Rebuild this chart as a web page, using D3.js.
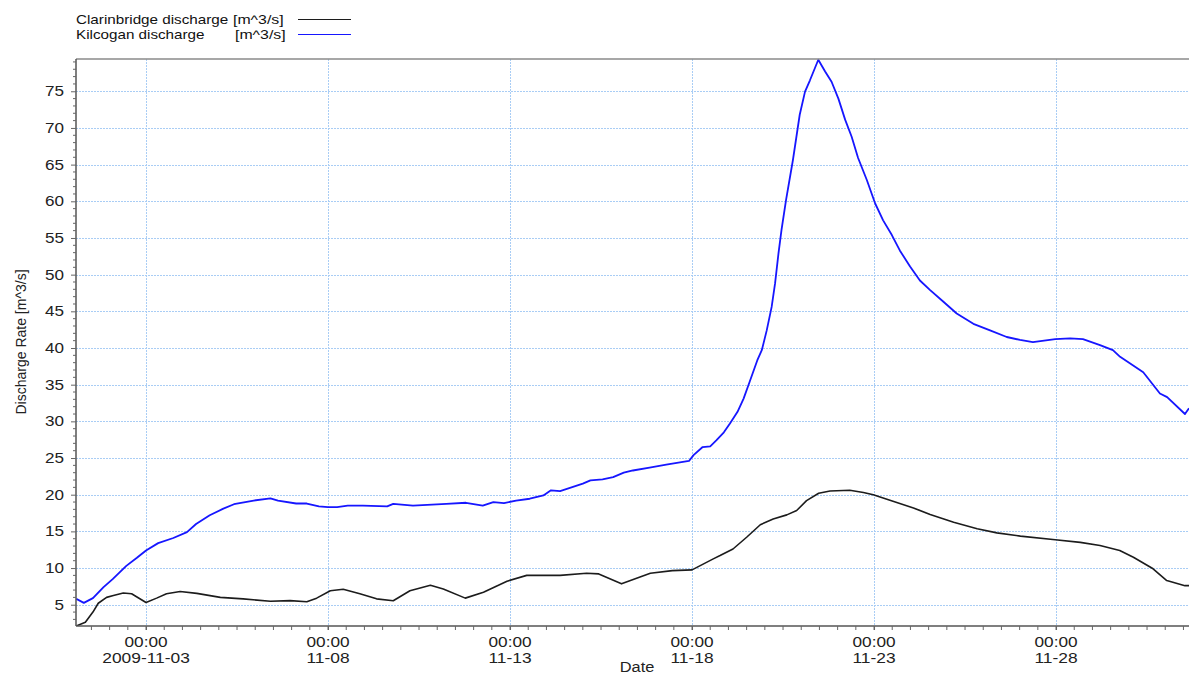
<!DOCTYPE html>
<html>
<head>
<meta charset="utf-8">
<script src="https://cdn.jsdelivr.net/npm/d3@7"></script>
<style>
  html, body { margin: 0; padding: 0; background: #fff; }
  svg { display: block; font-family: "Liberation Sans", Arial, sans-serif; }
</style>
</head>
<body>
<svg id="chart" width="1189" height="675"></svg>
<script>
// ---------------- data ----------------
const seriesNames = ["Clarinbridge discharge", "Kilcogan discharge"];
const seriesUnit = "[m^3/s]";

const kilcoganTimes = [
  "2009-11-01 02:00","2009-11-01 07:00","2009-11-01 13:00","2009-11-01 20:00",
  "2009-11-02 02:00","2009-11-02 11:00","2009-11-02 18:00","2009-11-03 00:00",
  "2009-11-03 08:00","2009-11-03 18:00","2009-11-04 03:00","2009-11-04 09:00",
  "2009-11-04 18:00","2009-11-05 03:00","2009-11-05 10:00","2009-11-05 23:00",
  "2009-11-06 10:00","2009-11-06 15:00","2009-11-07 03:00","2009-11-07 10:00",
  "2009-11-07 18:00","2009-11-08 00:00","2009-11-08 06:00","2009-11-08 13:00",
  "2009-11-08 23:00","2009-11-09 15:00","2009-11-09 19:00","2009-11-10 08:00",
  "2009-11-11 06:00","2009-11-11 19:00","2009-11-12 06:00","2009-11-12 13:00",
  "2009-11-12 20:00","2009-11-13 04:00","2009-11-13 13:00","2009-11-13 22:00",
  "2009-11-14 03:00","2009-11-14 09:00","2009-11-15 00:00","2009-11-15 05:00",
  "2009-11-15 13:00","2009-11-15 20:00","2009-11-16 03:00","2009-11-16 09:00",
  "2009-11-16 20:00","2009-11-17 07:00","2009-11-17 16:00","2009-11-17 22:00",
  "2009-11-18 01:00","2009-11-18 07:00","2009-11-18 12:00","2009-11-18 16:00",
  "2009-11-18 21:00","2009-11-19 01:00","2009-11-19 06:00","2009-11-19 10:00",
  "2009-11-19 14:00","2009-11-19 19:00","2009-11-19 22:00","2009-11-20 01:15",
  "2009-11-20 04:30","2009-11-20 06:45","2009-11-20 09:00","2009-11-20 11:00",
  "2009-11-20 14:00","2009-11-20 18:30","2009-11-20 23:00","2009-11-21 02:30",
  "2009-11-21 05:45","2009-11-21 11:15","2009-11-21 15:45","2009-11-21 20:00",
  "2009-11-22 00:30","2009-11-22 05:00","2009-11-22 09:15","2009-11-22 13:30",
  "2009-11-22 19:15","2009-11-23 00:45","2009-11-23 06:00","2009-11-23 11:45",
  "2009-11-23 17:00","2009-11-23 23:45","2009-11-24 06:15","2009-11-24 13:00",
  "2009-11-24 21:45","2009-11-25 06:30","2009-11-25 17:30","2009-11-26 04:30",
  "2009-11-26 15:30","2009-11-27 00:15","2009-11-27 08:45","2009-11-27 23:30",
  "2009-11-28 09:15","2009-11-28 17:45","2009-11-29 05:00","2009-11-29 13:30",
  "2009-11-29 18:15","2009-11-30 09:30","2009-11-30 20:30","2009-12-01 01:15",
  "2009-12-01 13:00","2009-12-01 15:40"
];
const kilcoganValues = [
  5.8, 5.25, 5.9, 7.4,
  8.5, 10.3, 11.4, 12.4,
  13.4, 14.1, 14.9, 16.0,
  17.2, 18.1, 18.7, 19.2,
  19.5, 19.2, 18.8, 18.8,
  18.4, 18.3, 18.3, 18.5,
  18.5, 18.4, 18.75, 18.5,
  18.75, 18.9, 18.5, 19.0,
  18.85, 19.2, 19.45, 19.9,
  20.6, 20.5, 21.5, 21.95,
  22.1, 22.4, 23.0, 23.3,
  23.7, 24.1, 24.4, 24.6,
  25.4, 26.5, 26.6, 27.4,
  28.5, 29.7, 31.3, 33.1,
  35.4, 38.3, 39.7, 42.4,
  45.6, 48.8, 52.9, 56.1,
  60.2, 65.6, 71.8, 74.95,
  76.5, 79.3, 77.7, 76.3,
  74.0, 71.1, 68.8, 65.9,
  62.9, 59.7, 57.4, 55.4,
  53.3, 51.1, 49.2, 47.9,
  46.3, 44.7, 43.3, 42.4,
  41.5, 41.1, 40.8, 41.2,
  41.3, 41.2, 40.4, 39.7,
  38.8, 36.7, 33.8, 33.3,
  31.0, 31.8
];

const clarinbridgeTimes = [
  "2009-11-01 02:00","2009-11-01 08:00","2009-11-01 13:00","2009-11-01 16:30",
  "2009-11-01 22:00","2009-11-02 02:30","2009-11-02 09:00","2009-11-02 14:30",
  "2009-11-03 00:00","2009-11-03 07:00","2009-11-03 13:30","2009-11-03 22:30",
  "2009-11-04 09:30","2009-11-05 01:00","2009-11-05 16:00","2009-11-06 10:00",
  "2009-11-06 23:00","2009-11-07 10:00","2009-11-07 16:30","2009-11-08 01:30",
  "2009-11-08 10:00","2009-11-08 21:00","2009-11-09 08:00","2009-11-09 19:00",
  "2009-11-10 06:00","2009-11-10 19:30","2009-11-11 04:00","2009-11-11 18:30",
  "2009-11-12 06:30","2009-11-12 22:00","2009-11-13 11:00","2009-11-14 09:00",
  "2009-11-15 02:30","2009-11-15 10:30","2009-11-16 01:30","2009-11-16 20:30",
  "2009-11-17 11:00","2009-11-18 00:00","2009-11-18 14:00","2009-11-18 18:30",
  "2009-11-19 03:00","2009-11-19 12:00","2009-11-19 21:00","2009-11-20 05:30",
  "2009-11-20 14:30","2009-11-20 21:00","2009-11-21 03:30","2009-11-21 11:30",
  "2009-11-21 19:00","2009-11-22 08:00","2009-11-22 17:00","2009-11-22 23:30",
  "2009-11-23 12:30","2009-11-24 02:00","2009-11-24 13:00","2009-11-25 04:30",
  "2009-11-25 20:00","2009-11-26 09:00","2009-11-27 00:30","2009-11-27 23:30",
  "2009-11-28 16:00","2009-11-29 05:00","2009-11-29 18:00","2009-11-30 03:00",
  "2009-11-30 16:00","2009-12-01 01:00","2009-12-01 13:00","2009-12-01 15:40"
];
const clarinbridgeValues = [
  2.1, 2.6, 4.0, 5.2,
  6.0, 6.25, 6.6, 6.5,
  5.3, 5.9, 6.5, 6.8,
  6.55, 6.0, 5.8, 5.47,
  5.56, 5.4, 5.9, 6.9,
  7.1, 6.5, 5.8, 5.55,
  6.9, 7.65, 7.15, 5.9,
  6.7, 8.2, 9.0, 9.0,
  9.3, 9.2, 7.85, 9.3,
  9.65, 9.75, 11.25, 11.7,
  12.6, 14.2, 15.9, 16.7,
  17.25, 17.85, 19.2, 20.2,
  20.5, 20.6, 20.3, 20.0,
  19.1, 18.2, 17.3, 16.25,
  15.35, 14.8, 14.35, 13.85,
  13.5, 13.07, 12.4, 11.47,
  9.9, 8.3, 7.6, 7.6
];

const yTickValues = [5, 10, 15, 20, 25, 30, 35, 40, 45, 50, 55, 60, 65, 70, 75];
const xTickDates = ["2009-11-03 00:00","2009-11-08 00:00","2009-11-13 00:00","2009-11-18 00:00","2009-11-23 00:00","2009-11-28 00:00"];
const xTickTimeLabels = ["00:00","00:00","00:00","00:00","00:00","00:00"];
const xTickDateLabels = ["2009-11-03","11-08","11-13","11-18","11-23","11-28"];
const xDomain = ["2009-11-01 01:50","2009-12-01 15:40"];
const yDomain = [2.1, 79.4];

// ---------------- drawing ----------------
const parse = d3.timeParse("%Y-%m-%d %H:%M");
const svg = d3.select("#chart");
const W = 1189, H = 675;
const m = { left: 76, top: 59, right: 0, bottom: 49 };
const pw = W - m.left - m.right, ph = H - m.top - m.bottom;

// the reference text is horizontally widened; reproduce it with textLength
function widen(sel, k) {
  sel.each(function () {
    const w = this.getComputedTextLength();
    this.setAttribute("textLength", (w * k).toFixed(2));
    this.setAttribute("lengthAdjust", "spacingAndGlyphs");
  });
}

const x = d3.scaleTime().domain(xDomain.map(parse)).range([m.left, m.left + pw]);
const y = d3.scaleLinear().domain(yDomain).range([m.top + ph, m.top]);

const gridColor = "#a9cdf5";

// gridlines
const grid = svg.append("g");
grid.selectAll("line.hg").data(yTickValues).join("line")
  .attr("x1", m.left).attr("x2", m.left + pw)
  .attr("y1", d => Math.round(y(d)) + 0.5).attr("y2", d => Math.round(y(d)) + 0.5)
  .attr("stroke", gridColor).attr("stroke-width", 1).attr("stroke-dasharray", "2,1");
grid.selectAll("line.vg").data(xTickDates.map(parse)).join("line")
  .attr("y1", m.top).attr("y2", m.top + ph)
  .attr("x1", d => Math.round(x(d)) + 0.5).attr("x2", d => Math.round(x(d)) + 0.5)
  .attr("stroke", gridColor).attr("stroke-width", 1).attr("stroke-dasharray", "2,1");

// series lines
const line = d3.line().x(d => x(d[0])).y(d => y(d[1]));
svg.append("clipPath").attr("id", "clip").append("rect")
  .attr("x", m.left).attr("y", m.top - 2).attr("width", pw).attr("height", ph + 2);

const blueData = kilcoganTimes.map((t, i) => [parse(t), kilcoganValues[i]]);
const blackData = clarinbridgeTimes.map((t, i) => [parse(t), clarinbridgeValues[i]]);

svg.append("path").datum(blackData).attr("d", line)
  .attr("fill", "none").attr("stroke", "#1c1c1c").attr("stroke-width", 1.6)
  .attr("clip-path", "url(#clip)").attr("stroke-linejoin", "round");
svg.append("path").datum(blueData).attr("d", line)
  .attr("fill", "none").attr("stroke", "#1616ff").attr("stroke-width", 1.8)
  .attr("clip-path", "url(#clip)").attr("stroke-linejoin", "round");

// frame: top border
svg.append("line").attr("x1", m.left).attr("x2", W).attr("y1", m.top).attr("y2", m.top)
  .attr("stroke", "#8a8a8a").attr("stroke-width", 1.5);

// y axis
const yAxis = d3.axisLeft(y).tickValues(yTickValues).tickSize(5).tickPadding(7).tickFormat(d3.format("d"));
const gy = svg.append("g").attr("transform", `translate(${m.left},0)`).call(yAxis);
const yMinor = d3.range(3, 80, 1).filter(v => v % 5 !== 0);
gy.selectAll("line.minor").data(yMinor).join("line").attr("class", "minor")
  .attr("x1", -3).attr("x2", 0).attr("y1", d => y(d)).attr("y2", d => y(d))
  .attr("stroke", "#666");
gy.select(".domain").attr("stroke", "#555").attr("stroke-width", 1.5)
  .attr("d", `M0,${m.top}V${m.top + ph}`);
gy.selectAll(".tick line").attr("stroke", "#666");
gy.selectAll(".tick text").attr("font-size", 14).attr("fill", "#222")
  .attr("font-family", "'Liberation Sans', Arial, sans-serif").call(widen, 1.22);

// x axis
const xAxis = d3.axisBottom(x).tickValues(xTickDates.map(parse)).tickSize(4).tickFormat("");
const gx = svg.append("g").attr("transform", `translate(0,${m.top + ph})`).call(xAxis);
gx.select(".domain").attr("stroke", "#555").attr("stroke-width", 1.5)
  .attr("d", `M${m.left},0H${W}`);
gx.selectAll(".tick line").attr("stroke", "#666");
const xMinor = d3.timeHour.every(12).range(...x.domain());
gx.selectAll("line.minor").data(xMinor).join("line").attr("class", "minor")
  .attr("x1", d => x(d)).attr("x2", d => x(d)).attr("y1", 0).attr("y2", 4)
  .attr("stroke", "#666");
const xLabels = gx.selectAll("g.lbl").data(xTickDates).join("g").attr("class", "lbl")
  .attr("transform", d => `translate(${x(parse(d))},0)`);
xLabels.append("text").attr("y", 21).attr("text-anchor", "middle")
  .attr("font-size", 14).attr("fill", "#222").text((d, i) => xTickTimeLabels[i]).call(widen, 1.23);
xLabels.append("text").attr("y", 37).attr("text-anchor", "middle")
  .attr("font-size", 14).attr("fill", "#222").text((d, i) => xTickDateLabels[i]).call(widen, 1.24);

// axis titles
svg.append("text").attr("x", 637).attr("y", 672).attr("text-anchor", "middle")
  .attr("font-size", 14).attr("fill", "#222").text("Date").call(widen, 1.17);
svg.append("text").attr("transform", "translate(26,342) rotate(-90)")
  .attr("text-anchor", "middle").attr("font-size", 14).attr("fill", "#222")
  .text("Discharge Rate [m^3/s]");

// legend
const legend = svg.append("g");
const legRows = [
  { name: seriesNames[0], color: "#1c1c1c", y: 24, unitX: 233 },
  { name: seriesNames[1], color: "#1616ff", y: 39, unitX: 235 }
];
legRows.forEach(r => {
  legend.append("text").attr("x", 76).attr("y", r.y).attr("font-size", 13).attr("fill", "#111")
    .text(r.name).call(widen, 1.17);
  legend.append("text").attr("x", r.unitX).attr("y", r.y).attr("font-size", 13).attr("fill", "#111")
    .text(seriesUnit).call(widen, 1.22);
  legend.append("line").attr("x1", 298).attr("x2", 351).attr("y1", r.y - 4.5).attr("y2", r.y - 4.5)
    .attr("stroke", r.color).attr("stroke-width", 1.2);
});
</script>
</body>
</html>
